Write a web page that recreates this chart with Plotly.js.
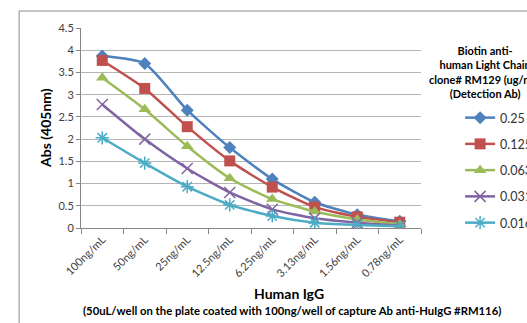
<!DOCTYPE html>
<html><head><meta charset="utf-8">
<script src="https://cdn.plot.ly/plotly-3.0.1.min.js"></script>
<style>html,body{margin:0;padding:0;background:#fff;overflow:hidden}#chart{width:527px;height:323px}</style>
</head><body><div id="chart"></div>
<script>
const categories = ["100ng/mL","50ng/mL","25ng/mL","12.5ng/mL","6.25ng/mL","3.13ng/mL","1.56ng/mL","0.78ng/mL"];
const seriesNames = ["0.25","0.125","0.063","0.031","0.016"];
const s025  = [3.87, 3.70, 2.65, 1.81, 1.10, 0.58, 0.30, 0.15];
const s0125 = [3.77, 3.14, 2.28, 1.51, 0.92, 0.47, 0.25, 0.13];
const s0063 = [3.38, 2.67, 1.84, 1.12, 0.65, 0.37, 0.19, 0.08];
const s0031 = [2.78, 2.00, 1.34, 0.80, 0.42, 0.22, 0.12, 0.05];
const s0016 = [2.03, 1.46, 0.93, 0.52, 0.27, 0.12, 0.07, 0.04];
const seriesValues = [s025, s0125, s0063, s0031, s0016];
const colors = ["#4F81BD","#C0504D","#9BBB59","#8064A2","#4BACC6"];
const symbols = ["diamond","square","triangle-up","x-thin-open","asterisk-open"];
const sizes = [10, 11, 11, 11, 11];
const F = "Lato, 'Open Sans', sans-serif";

const traces = seriesNames.map((n,i)=>({
  type:"scatter", mode:"lines+markers", name:n, x:categories, y:seriesValues[i],
  legendgroup:"g"+i,
  line:{color:colors[i], width:2.5, shape:"spline", smoothing:0.6},
  marker:{symbol:symbols[i], size:sizes[i], color:colors[i], line:{color:colors[i], width:(i>=3?1.5:0)}}
}));

const layout = {
  width:527, height:323,
  margin:{l:81, r:106, t:28, b:95, autoexpand:false},
  paper_bgcolor:"#fff", plot_bgcolor:"#fff",
  font:{family:F, color:"#404040"},
  showlegend:true,
  legend:{x:1.115, xanchor:"left", y:0.625, yanchor:"top", tracegroupgap:7, font:{size:12.5, color:"#333"}, bgcolor:"rgba(0,0,0,0)", itemwidth:30},
  xaxis:{type:"category", tickson:"boundaries", ticks:"outside", ticklen:5, tickcolor:"#868686",
    showline:true, linecolor:"#868686", showgrid:false, tickangle:-45, tickfont:{size:11, color:"#404040"}, range:[-0.5,7.5]},
  yaxis:{range:[0,4.5], dtick:0.5, ticks:"outside", ticklen:4, tickcolor:"#868686", showline:true, linecolor:"#868686",
    gridcolor:"#b5b5b5", gridwidth:1, zeroline:false, tickfont:{size:11, color:"#404040"}},
  shapes:[{type:"rect", xref:"paper", yref:"paper", x0:-0.182, x1:1.4, y0:-0.6, y1:1.085, line:{color:"#8c8c8c", width:1}}],
  annotations:[
    {xref:"paper", yref:"paper", x:(45-81)/340, y:0.5, xanchor:"center", yanchor:"middle", text:"<b>Abs (405nm)</b>", textangle:-90, showarrow:false, font:{size:14, color:"#000"}},
    {xref:"paper", yref:"paper", x:(289-81)/340, y:(228-293)/200, xanchor:"center", yanchor:"middle", text:"<b>Human IgG</b>", showarrow:false, font:{size:14, color:"#000"}},
    {xref:"paper", yref:"paper", x:(292-81)/340, y:(228-310)/200, xanchor:"center", yanchor:"middle", text:"<b>(50uL/well on the plate coated with 100ng/well of capture Ab anti-HuIgG #RM116)</b>", showarrow:false, font:{size:11.3, color:"#000"}},
    {xref:"paper", yref:"paper", x:(485-81)/340, y:(228-72)/200, xanchor:"center", yanchor:"middle", text:"<b>Biotin anti-<br>human Light Chain<br>clone# RM129 (ug/mL)<br>(Detection Ab)</b>", showarrow:false, align:"center", font:{size:11, color:"#000"}}
  ]
};
Plotly.newPlot("chart", traces, layout, {staticPlot:true});
</script></body></html>
